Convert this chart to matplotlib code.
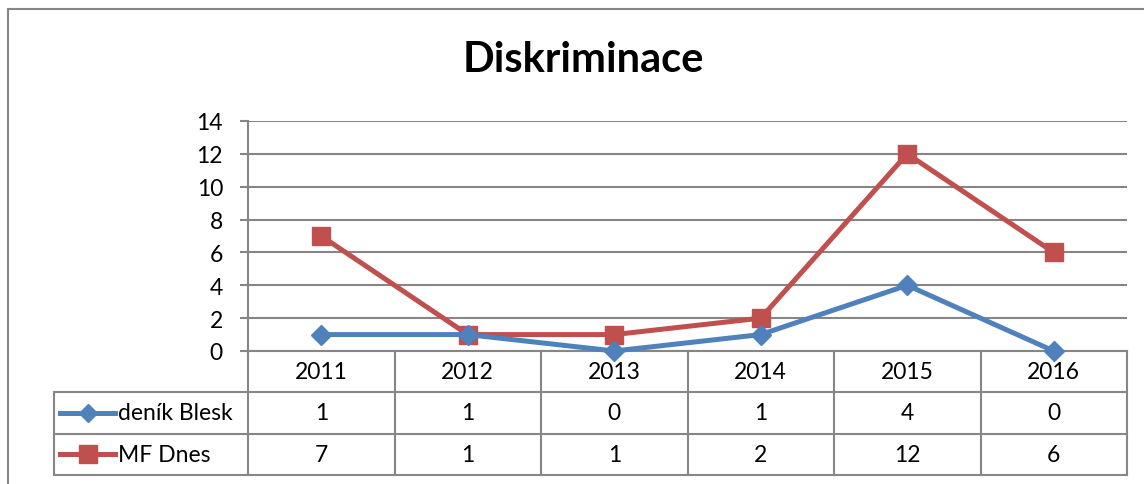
import matplotlib
matplotlib.use("Agg")
from matplotlib import pyplot as plt
from matplotlib.lines import Line2D

years = ["2011", "2012", "2013", "2014", "2015", "2016"]
blesk = [1, 1, 0, 1, 4, 0]
mf_dnes = [7, 1, 1, 2, 12, 6]
series_names = ["deník Blesk", "MF Dnes"]

BLUE = "#4F81BD"
RED = "#C0504D"
GRID = "#868686"

plt.rcParams['font.family'] = ['Lato', 'DejaVu Sans']

W, H = 1144, 485
fig = plt.figure(figsize=(W / 100, H / 100), dpi=100)


def px_axes(left, top, right, bottom):
    # axes placed by pixel box (origin top-left)
    return fig.add_axes([left / W, (H - bottom) / H, (right - left) / W, (bottom - top) / H])


# outer chart border (runs off the right and bottom of the image)
fig.add_artist(Line2D([8 / W, 8 / W], [0, (H - 10) / H], color=GRID, lw=1.5, transform=fig.transFigure))
fig.add_artist(Line2D([8 / W, 1], [(H - 10) / H, (H - 10) / H], color=GRID, lw=1.5, transform=fig.transFigure))

fig.text(583 / W, (H - 60) / H, "Diskriminace", ha="center", va="center",
         fontsize=30, fontweight="bold")

FS = 16.5

# plot area
ax = px_axes(248, 122, 1127, 352)
x = list(range(len(years)))
ax.plot(x, blesk, color=BLUE, lw=3.6, marker="D", ms=10.5, mec=BLUE, mfc=BLUE,
        clip_on=False, zorder=4)
ax.plot(x, mf_dnes, color=RED, lw=3.6, marker="s", ms=13.5, mec=RED, mfc=RED,
        clip_on=False, zorder=3)
ax.set_xlim(-0.5, len(years) - 0.5)
ax.set_ylim(0, 14)
ax.set_yticks(range(0, 15, 2))
ax.set_xticks([])
ax.yaxis.grid(True, color=GRID, lw=1.5)
ax.set_axisbelow(True)
for side in ["top", "right"]:
    ax.spines[side].set_visible(False)
ax.spines["left"].set_color(GRID)
ax.spines["left"].set_linewidth(1.5)
ax.spines["bottom"].set_color(GRID)
ax.spines["bottom"].set_linewidth(1.5)
ax.tick_params(axis="y", length=6, width=1.5, color=GRID, labelsize=FS, pad=12)

# data table underneath
cat_w = (1127 - 248) / len(years)
tab = px_axes(54, 352, 1127, 476)
x_left = -0.5 - (248 - 54) / cat_w
tab.set_xlim(x_left, len(years) - 0.5)
tab.set_ylim(3, 0)
tab.axis("off")

for i in range(len(years) + 1):
    tab.plot([i - 0.5, i - 0.5], [0, 3], color=GRID, lw=1.5, clip_on=False)
tab.plot([x_left, x_left], [1, 3], color=GRID, lw=1.5, clip_on=False)
for r in [1, 2, 3]:
    tab.plot([x_left, len(years) - 0.5], [r, r], color=GRID, lw=1.5, clip_on=False)

for i, yr in enumerate(years):
    tab.text(i, 0.5, yr, ha="center", va="center", fontsize=FS)
for r, (vals, name, col, mk, ms) in enumerate(
        [(blesk, series_names[0], BLUE, "D", 9.5), (mf_dnes, series_names[1], RED, "s", 12.5)], start=1):
    for i, v in enumerate(vals):
        tab.text(i, r + 0.5, str(v), ha="center", va="center", fontsize=FS)
    # legend key in the left column
    kx0 = x_left + (60 - 54) / cat_w
    kx1 = x_left + (115 - 54) / cat_w
    tab.plot([kx0, kx1], [r + 0.5, r + 0.5], color=col, lw=3.6, clip_on=False)
    tab.plot([(kx0 + kx1) / 2], [r + 0.5], marker=mk, ms=ms, color=col, clip_on=False)
    tab.text(x_left + (118 - 54) / cat_w, r + 0.5, name, ha="left", va="center", fontsize=FS)

fig.savefig("out.png", dpi=100)
